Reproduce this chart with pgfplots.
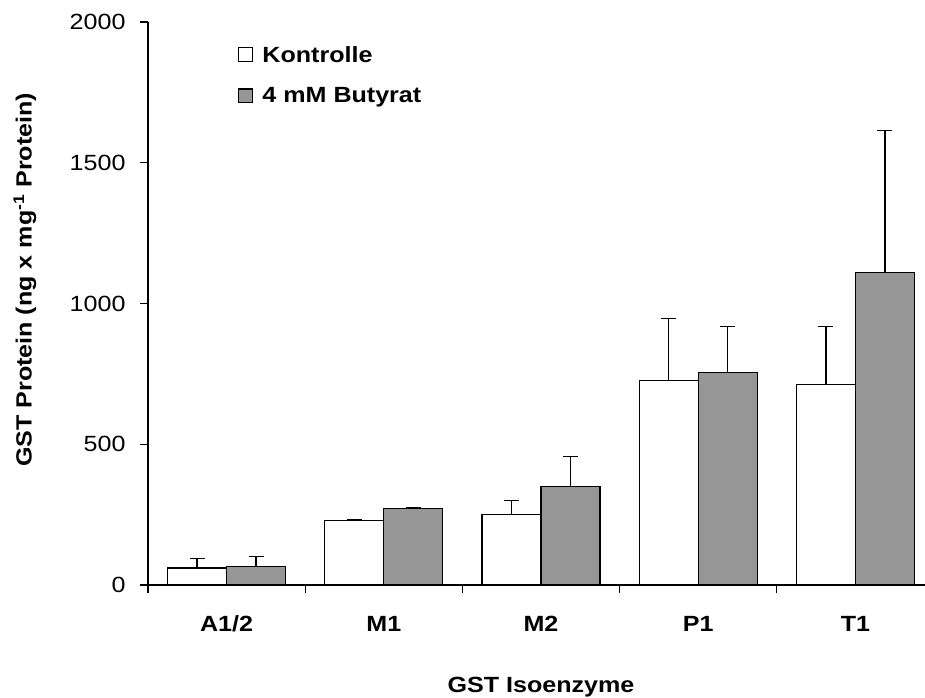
\documentclass[border=0pt]{standalone}
\usepackage{fontspec}
\setmainfont{Liberation Sans}[FakeStretch=1.14]
\usepackage{pgfplots}
\pgfplotsset{compat=1.18}
\definecolor{bargray}{RGB}{150,150,150}
\newcommand{\myfont}{\fontsize{22}{26}\selectfont}
\begin{document}
\begin{tikzpicture}[font=\myfont]
\useasboundingbox (-148pt,-112pt) rectangle (777pt,585pt);
\begin{axis}[
  at={(0,0)}, anchor=south west,
  scale only axis, width=786pt, height=563pt,
  xmin=-0.5, xmax=4.5, ymin=0, ymax=2000,
  axis lines=left, axis line style={-, line width=1.3pt},
  every tick/.style={black, line width=1.3pt},
  tick align=outside, major tick length=8pt,
  ytick={0,500,1000,1500,2000},
  xtick={-0.5,0.5,1.5,2.5,3.5,4.5},
  xticklabels={A1/2,M1,M2,P1,T1,},
  tick label style={font=\myfont},
  xticklabel style={font=\myfont\bfseries, anchor=base, xshift=78.6pt, yshift=-38pt},
  yticklabel style={anchor=east, xshift=-11pt},
  /pgf/number format/assume math mode=true,
  /pgf/number format/1000 sep={},
  scaled y ticks=false,
  ylabel={\bfseries GST Protein (ng x mg\textsuperscript{-1} Protein)},
  xlabel={\bfseries GST Isoenzyme},
  every axis y label/.style={at={(axis description cs:-0.1565,0.542)}, rotate=90, anchor=center, font=\myfont},
  every axis x label/.style={at={(axis description cs:0.5,0)}, anchor=base, yshift=-107pt, font=\myfont},
  ybar=0pt, bar width=59pt,
  legend cell align=left,
  legend style={at={(rel axis cs:0.1145,0.961)}, anchor=north west, draw=none, fill=none,
    font=\myfont\bfseries, row sep=20pt, inner sep=0pt},
  legend image code/.code={\draw[#1, line width=1.2pt] (0pt,-6.5pt) rectangle (14pt,7pt); \path (21pt,0pt);},
  error bars/error bar style={line width=1.5pt, black},
  error bars/error mark options={rotate=90, mark size=7.5pt, line width=1.5pt, black},
]
\addplot[draw=black, line width=1.3pt, fill=white,
  error bars/.cd, y dir=plus, y explicit]
  coordinates {(0,60) +- (0,34) (1,229) +- (0,2) (2,250) +- (0,50) (3,726) +- (0,221) (4,712) +- (0,207)};
\addlegendentry{Kontrolle}
\addplot[draw=black, line width=1.3pt, fill=bargray,
  error bars/.cd, y dir=plus, y explicit]
  coordinates {(0,66) +- (0,35) (1,272) +- (0,2) (2,350) +- (0,107) (3,756) +- (0,163) (4,1110) +- (0,505)};
\addlegendentry{4 mM Butyrat}
\end{axis}
\end{tikzpicture}
\end{document}
